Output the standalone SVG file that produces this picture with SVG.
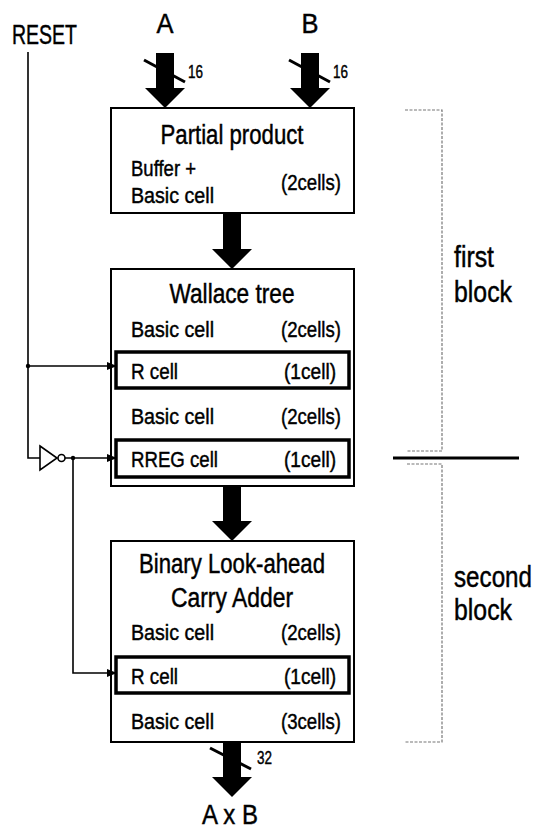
<svg xmlns="http://www.w3.org/2000/svg" width="550" height="830" viewBox="0 0 550 830">
<style>
text{font-family:"Liberation Sans",Arial,sans-serif;fill:#000;stroke:#000;stroke-width:0.45}
.title{font-size:27px;text-anchor:middle}
.row{font-size:22px}
.rowr{font-size:22px;text-anchor:end}
.big{font-size:27px}
.side{font-size:29px}
.num{font-size:18px}
.box{fill:#fff;stroke:#000;stroke-width:2}
.cell{fill:none;stroke:#000;stroke-width:3.5}
.wire{fill:none;stroke:#000;stroke-width:1.6}
.bus{fill:#000}
.slash{stroke:#000;stroke-width:3;fill:none}
.dash{fill:none;stroke:#777;stroke-width:1.2;stroke-dasharray:3,1.5}
</style>
<defs>
<marker id="ah" markerWidth="10" markerHeight="10" refX="9" refY="5" orient="auto" markerUnits="userSpaceOnUse">
<path d="M0,1 L10,5 L0,9 Z" fill="#000"/>
</marker>
</defs>

<g id="labels">
<text class="big" x="12" y="44" textLength="65" lengthAdjust="spacingAndGlyphs">RESET</text>
<text class="big" x="165" y="33" text-anchor="middle" textLength="17" lengthAdjust="spacingAndGlyphs">A</text>
<text class="big" x="310" y="33" text-anchor="middle" textLength="17" lengthAdjust="spacingAndGlyphs">B</text>
<text class="big" x="230" y="824" text-anchor="middle" textLength="56" lengthAdjust="spacingAndGlyphs">A x B</text>
</g>

<g id="node-partial">
<rect class="box" x="111" y="108" width="243" height="105"/>
<text class="title" x="232" y="144" textLength="143" lengthAdjust="spacingAndGlyphs">Partial product</text>
<text class="row" x="131" y="176" textLength="65" lengthAdjust="spacingAndGlyphs">Buffer +</text>
<text class="row" x="131" y="203" textLength="83" lengthAdjust="spacingAndGlyphs">Basic cell</text>
<text class="rowr" x="341" y="190" textLength="60" lengthAdjust="spacingAndGlyphs">(2cells)</text>
</g>

<g id="node-wallace">
<rect class="box" x="111" y="269" width="243" height="217"/>
<text class="title" x="232" y="303" textLength="125" lengthAdjust="spacingAndGlyphs">Wallace tree</text>
<text class="row" x="131" y="337" textLength="83" lengthAdjust="spacingAndGlyphs">Basic cell</text>
<text class="rowr" x="341" y="337" textLength="60" lengthAdjust="spacingAndGlyphs">(2cells)</text>
<g id="node-wallace-rcell">
<rect class="cell" x="116" y="352" width="233" height="36"/>
<text class="row" x="131" y="379" textLength="47" lengthAdjust="spacingAndGlyphs">R cell</text>
<text class="rowr" x="336" y="379" textLength="52" lengthAdjust="spacingAndGlyphs">(1cell)</text>
</g>
<text class="row" x="131" y="424" textLength="83" lengthAdjust="spacingAndGlyphs">Basic cell</text>
<text class="rowr" x="341" y="424" textLength="60" lengthAdjust="spacingAndGlyphs">(2cells)</text>
<g id="node-wallace-rreg">
<rect class="cell" x="116" y="440" width="233" height="37"/>
<text class="row" x="131" y="467" textLength="87" lengthAdjust="spacingAndGlyphs">RREG cell</text>
<text class="rowr" x="336" y="467" textLength="52" lengthAdjust="spacingAndGlyphs">(1cell)</text>
</g>
</g>

<g id="node-adder">
<rect class="box" x="111" y="541" width="243" height="201"/>
<text class="title" x="232" y="573" textLength="186" lengthAdjust="spacingAndGlyphs">Binary Look-ahead</text>
<text class="title" x="232" y="607" textLength="122" lengthAdjust="spacingAndGlyphs">Carry Adder</text>
<text class="row" x="131" y="640" textLength="83" lengthAdjust="spacingAndGlyphs">Basic cell</text>
<text class="rowr" x="341" y="640" textLength="60" lengthAdjust="spacingAndGlyphs">(2cells)</text>
<g id="node-adder-rcell">
<rect class="cell" x="116" y="657" width="233" height="36"/>
<text class="row" x="131" y="684" textLength="47" lengthAdjust="spacingAndGlyphs">R cell</text>
<text class="rowr" x="336" y="684" textLength="52" lengthAdjust="spacingAndGlyphs">(1cell)</text>
</g>
<text class="row" x="131" y="729" textLength="83" lengthAdjust="spacingAndGlyphs">Basic cell</text>
<text class="rowr" x="341" y="729" textLength="60" lengthAdjust="spacingAndGlyphs">(3cells)</text>
</g>

<g id="node-inverter">
<path d="M40,446 L57,458 L40,470 Z" fill="#fff" stroke="#000" stroke-width="1.6"/>
<circle cx="61.5" cy="458" r="3.5" fill="#fff" stroke="#000" stroke-width="1.6"/>
</g>

<g id="node-blocks">
<path class="dash" d="M405,110 H442 V451 H407"/>
<path class="dash" d="M407,464 H442 V742 H405"/>
<line x1="393" y1="458" x2="519" y2="458" stroke="#000" stroke-width="3"/>
<text class="side" x="454" y="267" textLength="40" lengthAdjust="spacingAndGlyphs">first</text>
<text class="side" x="454" y="302" textLength="58" lengthAdjust="spacingAndGlyphs">block</text>
<text class="side" x="454" y="587" textLength="78" lengthAdjust="spacingAndGlyphs">second</text>
<text class="side" x="454" y="620" textLength="58" lengthAdjust="spacingAndGlyphs">block</text>
</g>

<g id="connectors">
<path class="bus" d="M156,53 H174 V88 H185 L165,108 L145,88 H156 Z"/>
<line class="slash" x1="144" y1="60" x2="185" y2="82"/>
<text class="num" x="188" y="78" textLength="15" lengthAdjust="spacingAndGlyphs">16</text>
<path class="bus" d="M301,53 H319 V88 H330 L310,108 L290,88 H301 Z"/>
<line class="slash" x1="289" y1="60" x2="330" y2="82"/>
<text class="num" x="333" y="78" textLength="15" lengthAdjust="spacingAndGlyphs">16</text>
<path class="bus" d="M223,213 H241 V249 H252 L232,269 L212,249 H223 Z"/>
<path class="bus" d="M223,486 H241 V521 H252 L232,541 L212,521 H223 Z"/>
<path class="bus" d="M223,742 H241 V777 H252 L232,797 L212,777 H223 Z"/>
<line class="slash" x1="210" y1="748" x2="251" y2="769"/>
<text class="num" x="257" y="764" textLength="15" lengthAdjust="spacingAndGlyphs">32</text>
<path class="wire" d="M28,52 V458 H40"/>
<path class="wire" d="M28,366 H116" marker-end="url(#ah)"/>
<path class="wire" d="M65,458 H116" marker-end="url(#ah)"/>
<path class="wire" d="M73,458 V673 H116" marker-end="url(#ah)"/>
<circle cx="28" cy="366" r="2.2" fill="#000"/>
<circle cx="73" cy="458" r="2.2" fill="#000"/>
</g>
</svg>
